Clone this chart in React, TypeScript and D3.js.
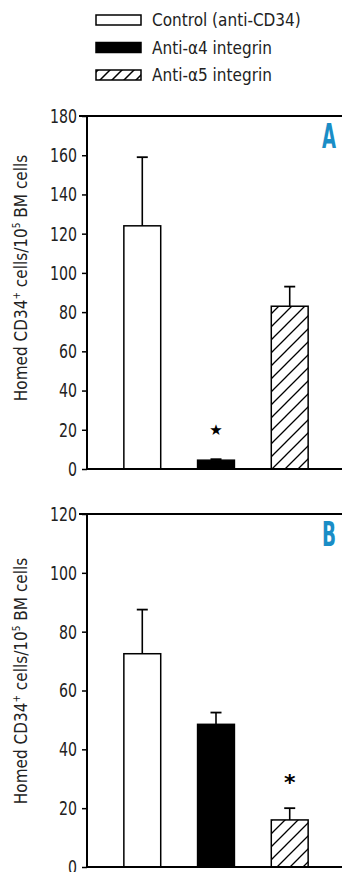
import { useRef, useEffect } from 'react';
import * as d3 from 'd3';

const GROUPS = ['Control (anti-CD34)', 'Anti-α4 integrin', 'Anti-α5 integrin'];
const FILLS = ['white', 'black', 'url(#hatch)'];
const LEGEND_FILLS = ['white', 'black', 'url(#hatchLegend)'];

const A_MEANS = [124, 4.5, 83];
const A_UPPER = [159, 5, 93];
const A_TICKS = [0, 20, 40, 60, 80, 100, 120, 140, 160, 180];
const A_STAR = { index: 1, value: 20, glyph: '★' };

const B_MEANS = [72.5, 48.5, 16];
const B_UPPER = [87.5, 52.5, 20];
const B_TICKS = [0, 20, 40, 60, 80, 100, 120];
const B_STAR = { index: 2, value: 30.5, glyph: '*' };

const W = 342;
const H = 872;
const FONT = '"Liberation Sans Narrow", "DejaVu Sans Condensed", "Arial Narrow", sans-serif';
const BLUE = '#1a8dc6';

export default function App() {
  const svgRef = useRef(null);

  useEffect(() => {
    const svg = d3.select(svgRef.current);
    svg.selectAll('*').remove();
    svg.attr('width', W).attr('height', H);

    const defs = svg.append('defs');
    const hatch = defs.append('pattern').attr('id', 'hatch')
      .attr('patternUnits', 'userSpaceOnUse').attr('width', 13).attr('height', 13);
    hatch.append('path').attr('d', 'M-2,2 L2,-2 M0,13 L13,0 M11,15 L15,11')
      .attr('stroke', '#000').attr('stroke-width', 1.3);
    const hatchL = defs.append('pattern').attr('id', 'hatchLegend')
      .attr('patternUnits', 'userSpaceOnUse').attr('width', 12).attr('height', 12);
    hatchL.append('path').attr('d', 'M-2,2 L2,-2 M0,12 L12,0 M10,14 L14,10')
      .attr('stroke', '#000').attr('stroke-width', 1.5);

    // Legend
    const leg = svg.append('g');
    GROUPS.forEach((name, i) => {
      const y = 15 + i * 27.5;
      leg.append('rect').attr('x', 96).attr('y', y).attr('width', 45).attr('height', 10)
        .attr('fill', LEGEND_FILLS[i]).attr('stroke', '#000').attr('stroke-width', 1.5);
      leg.append('text').attr('x', 152).attr('y', y + 11)
        .attr('font-family', FONT).attr('font-size', 17).attr('fill', '#222')
        .text(name);
    });

    const panels = [
      { top: 116, bottom: 469, max: 180, means: A_MEANS, upper: A_UPPER, ticks: A_TICKS, star: A_STAR, label: 'A', titleY: 278 },
      { top: 514, bottom: 867, max: 120, means: B_MEANS, upper: B_UPPER, ticks: B_TICKS, star: B_STAR, label: 'B', titleY: 681 },
    ];

    const left = 87;
    const x = d3.scaleBand().domain(GROUPS).range([left, 345]).paddingInner(0.5).paddingOuter(0.5);

    panels.forEach(p => {
      const y = d3.scaleLinear().domain([0, p.max]).range([p.bottom, p.top]);
      const g = svg.append('g');

      // Bars
      g.selectAll('rect.bar').data(GROUPS).enter().append('rect')
        .attr('x', d => x(d))
        .attr('y', (_, i) => y(p.means[i]))
        .attr('width', x.bandwidth())
        .attr('height', (_, i) => p.bottom - y(p.means[i]))
        .attr('fill', (_, i) => FILLS[i])
        .attr('stroke', '#000').attr('stroke-width', 1.5);

      // Error bars (upper only)
      GROUPS.forEach((d, i) => {
        const cx = x(d) + x.bandwidth() / 2;
        g.append('line').attr('x1', cx).attr('x2', cx)
          .attr('y1', y(p.means[i])).attr('y2', y(p.upper[i]))
          .attr('stroke', '#000').attr('stroke-width', 1.6);
        g.append('line').attr('x1', cx - 5.5).attr('x2', cx + 5.5)
          .attr('y1', y(p.upper[i])).attr('y2', y(p.upper[i]))
          .attr('stroke', '#000').attr('stroke-width', 1.8);
      });

      // Significance mark
      const sx = x(GROUPS[p.star.index]) + x.bandwidth() / 2;
      const isAst = p.star.glyph === '*';
      g.append('text').attr('x', sx).attr('y', y(p.star.value) + (isAst ? 13 : 5))
        .attr('text-anchor', 'middle').attr('font-family', 'DejaVu Sans, sans-serif')
        .attr('font-weight', 'bold')
        .attr('font-size', isAst ? 22 : 15).attr('fill', '#000')
        .text(p.star.glyph);

      // Axis
      const ax = g.append('g').attr('transform', `translate(${left},0)`)
        .call(d3.axisLeft(y).tickValues(p.ticks).tickSize(5).tickPadding(5));
      ax.select('.domain').remove();
      ax.selectAll('.tick line').attr('stroke', '#000').attr('stroke-width', 1.5);
      ax.selectAll('.tick text').attr('font-family', FONT).attr('font-size', 20).attr('fill', '#222')
        .attr('textLength', d => String(d).length * 9).attr('lengthAdjust', 'spacingAndGlyphs');

      g.append('line').attr('x1', left).attr('x2', left).attr('y1', p.top).attr('y2', p.bottom)
        .attr('stroke', '#000').attr('stroke-width', 2);
      g.append('line').attr('x1', left - 8).attr('x2', W).attr('y1', p.top).attr('y2', p.top)
        .attr('stroke', '#000').attr('stroke-width', 2);
      g.append('line').attr('x1', left - 1).attr('x2', W).attr('y1', p.bottom).attr('y2', p.bottom)
        .attr('stroke', '#000').attr('stroke-width', 2);

      // Panel letter
      g.append('text').attr('x', 322).attr('y', p.top + 32)
        .attr('font-family', FONT).attr('font-weight', 'bold').attr('font-size', 33)
        .attr('textLength', 14).attr('lengthAdjust', 'spacingAndGlyphs')
        .attr('fill', BLUE).text(p.label);

      // Y title
      const t = g.append('text').attr('transform', `translate(27,${p.titleY}) rotate(-90)`)
        .attr('text-anchor', 'middle').attr('font-family', FONT).attr('font-size', 17)
        .attr('fill', '#222');
      t.append('tspan').text('Homed CD34');
      t.append('tspan').attr('font-size', 10).attr('dy', -7).text('+');
      t.append('tspan').attr('dy', 7).text(' cells/10');
      t.append('tspan').attr('font-size', 10).attr('dy', -7).text('5');
      t.append('tspan').attr('dy', 7).text(' BM cells');
    });
  }, []);

  return (
    <div style={{ position: 'absolute', left: 0, top: 0, width: W, height: H, background: '#fff' }}>
      <svg ref={svgRef} style={{ display: 'block' }} />
    </div>
  );
}
